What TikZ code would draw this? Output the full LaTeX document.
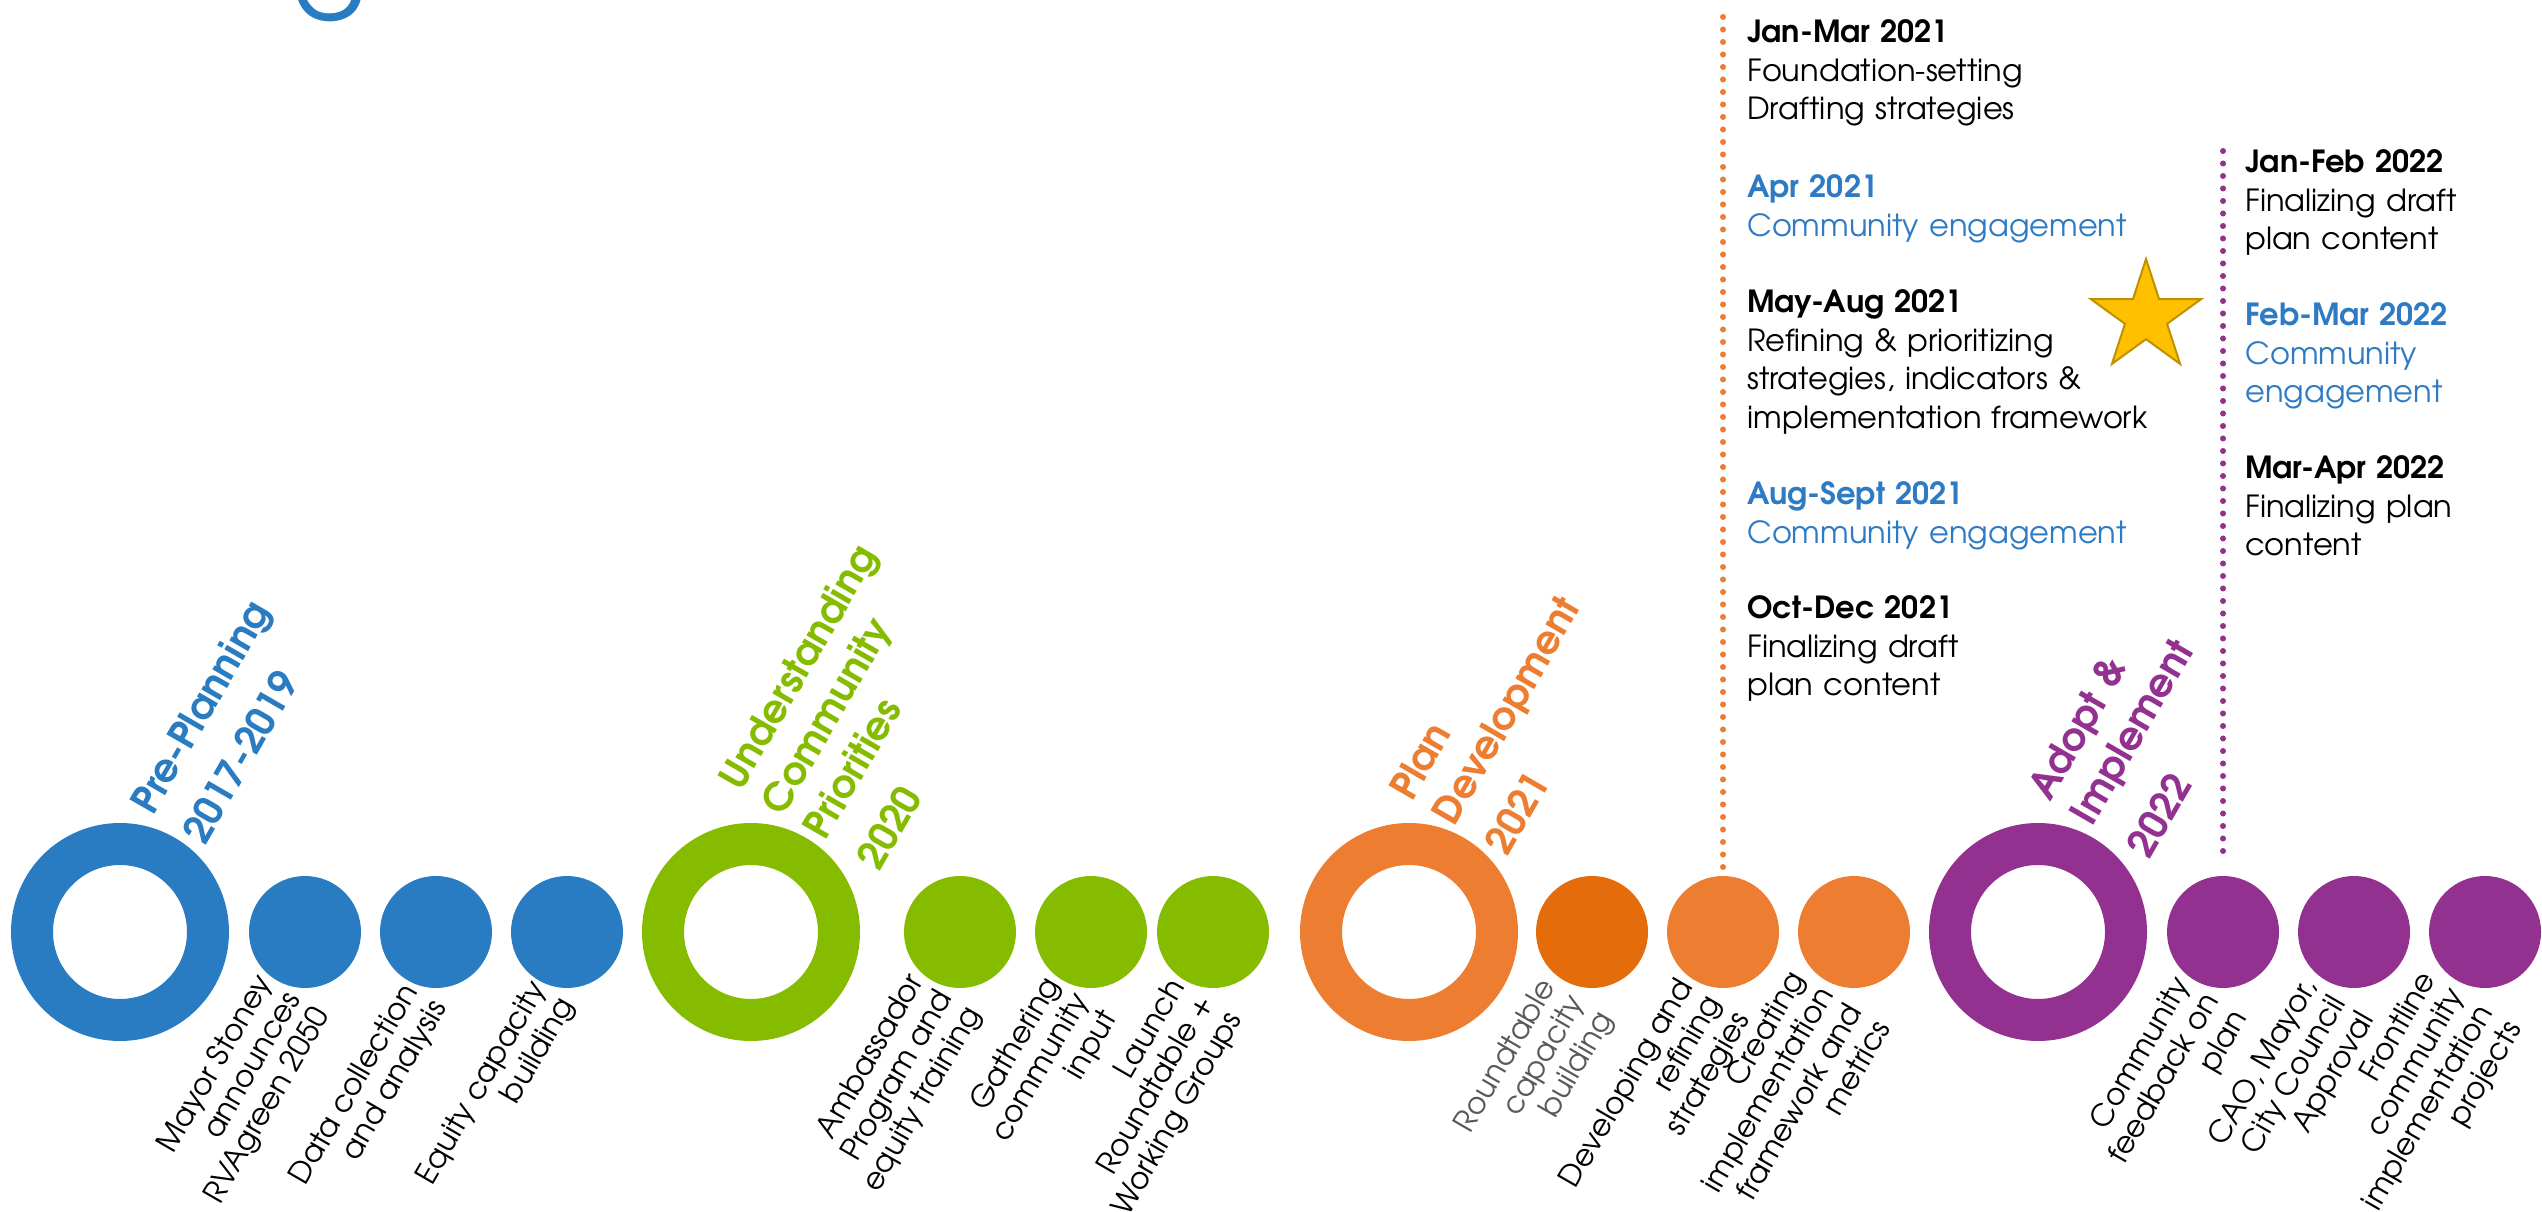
\documentclass[tikz,border=0pt]{standalone}
\usepackage{fontspec}
\setmainfont{TeX Gyre Adventor}
\usetikzlibrary{positioning,shapes.geometric}

\definecolor{preblue}{HTML}{297CC1}
\definecolor{undgreen}{HTML}{85BC00}
\definecolor{planorange}{HTML}{ED7D31}
\definecolor{darkorange}{HTML}{E46C0A}
\definecolor{adoptpurple}{HTML}{923190}
\definecolor{engblue}{HTML}{2E7BC4}
\definecolor{labelgray}{HTML}{595959}
\definecolor{stargold}{HTML}{FFC000}
\definecolor{staredge}{HTML}{BF9000}

\tikzset{
  phase/.style={circle,draw=#1,line width=42pt,outer sep=21pt,
    minimum size=176pt,inner sep=0pt},
  stepdot/.style={circle,fill=#1,minimum size=112pt,inner sep=0pt,outer sep=0pt},
  phasetitle/.style={rotate=60,anchor=base west,align=left,text width=340pt,
    inner sep=0pt,text=#1,font=\bfseries\fontsize{39}{49}\selectfont},
  steplabel/.style={rotate=60,anchor=north east,align=right,inner sep=0pt,
    font=\fontsize{30}{33}\selectfont},
  dotline/.style={draw=#1,line width=6pt,line cap=round,
    dash pattern=on 0pt off 12.5pt},
  when/.style={anchor=base west,align=left,text width=#1,inner sep=0pt,
    font=\fontsize{30.5}{38.4}\selectfont},
}

\begin{document}
\begin{tikzpicture}[x=1pt,y=1pt,node distance=19pt]
\useasboundingbox (0,0) rectangle (2542,1211);
% heading, cut off by the top edge
\node[anchor=base,inner sep=0pt,text=preblue,font=\fontsize{118}{118}\selectfont]
  (head) at (330,1214) {g};

% phases and steps
\node[phase=preblue] (pre) at (120,279) {};
\node[stepdot=preblue,right=20pt of pre] (b1) {};
\node[stepdot=preblue,right=of b1] (b2) {};
\node[stepdot=preblue,right=of b2] (b3) {};
\node[phase=undgreen,right=of b3] (und) {};
\node[stepdot=undgreen,right=44pt of und] (g1) {};
\node[stepdot=undgreen,right=of g1] (g2) {};
\node[stepdot=undgreen,right=10pt of g2] (g3) {};
\node[phase=planorange,right=31pt of g3] (plan) {};
\node[stepdot=darkorange,right=18pt of plan] (o1) {};
\node[stepdot=planorange,right=of o1] (o2) {};
\node[stepdot=planorange,right=of o2] (o3) {};
\node[phase=adoptpurple,right=of o3] (adopt) {};
\node[stepdot=adoptpurple,right=20pt of adopt] (p1) {};
\node[stepdot=adoptpurple,right=of p1] (p2) {};
\node[stepdot=adoptpurple,right=of p2] (p3) {};

% phase titles
\node[phasetitle=preblue] (pretitle) at ([shift={(33,115)}]pre.center)
  {Pre-Planning\\[11pt]2017-2019};
\node[phasetitle=undgreen] (undtitle) at ([shift={(-10,139)}]und.center)
  {Understanding\\Community\\Priorities\\[13pt]2020};
\node[phasetitle=planorange] (plantitle) at ([shift={(3,129)}]plan.center)
  {Plan\\Development\\[12pt]2021};
\node[phasetitle=adoptpurple] (adopttitle) at ([shift={(12,129)}]adopt.center)
  {Adopt \&\\Implement\\[17pt]2022};

% step labels
\node[steplabel] (b1text) at ([shift={(-52,-39)}]b1.center)
  {Mayor Stoney\\announces\\RVAgreen 2050};
\node[steplabel] (b2text) at ([shift={(-37,-48)}]b2.center)
  {Data collection\\and analysis};
\node[steplabel] (b3text) at ([shift={(-40,-45)}]b3.center)
  {Equity capacity\\building};
\node[steplabel] (g1text) at ([shift={(-55,-38)}]g1.center)
  {Ambassador\\Program and\\equity training};
\node[steplabel] (g2text) at ([shift={(-50,-41)}]g2.center)
  {Gathering\\community\\input};
\node[steplabel] (g3text) at ([shift={(-47,-43)}]g3.center)
  {Launch\\Roundtable +\\Working Groups};
\node[steplabel,text=labelgray] (o1text) at ([shift={(-55,-43)}]o1.center)
  {Roundtable\\capacity\\building};
\node[steplabel] (o2text) at ([shift={(-49,-43)}]o2.center)
  {Developing and\\refining\\strategies};
\node[steplabel] (o3text) at ([shift={(-68,-35)}]o3.center)
  {Creating\\implementation\\framework and\\metrics};
\node[steplabel] (p1text) at ([shift={(-52,-41)}]p1.center)
  {Community\\feedback on\\plan};
\node[steplabel] (p2text) at ([shift={(-56,-43)}]p2.center)
  {CAO, Mayor,\\City Council\\Approval};
\node[steplabel] (p3text) at ([shift={(-68,-36)}]p3.center)
  {Frontline\\community\\implementation\\projects};

% 2021 detail
\coordinate (otop) at ([yshift=867pt]o2.north);
\draw[dotline=planorange] ([yshift=9pt]o2.north) -- (otop);
\node[when=480pt] (jan21) at (1747,1168)
  {\textbf{Jan-Mar 2021}\\Foundation-setting\\Drafting strategies};
\node[when=480pt,text=engblue] (apr21) at ([yshift=-155pt]jan21.base west)
  {\textbf{Apr 2021}\\Community engagement};
\node[when=480pt] (may21) at ([yshift=-115pt]apr21.base west)
  {\textbf{May-Aug 2021}\\Refining \& prioritizing\\strategies, indicators \&\\implementation framework};
\node[when=480pt,text=engblue] (aug21) at ([yshift=-192pt]may21.base west)
  {\textbf{Aug-Sept 2021}\\Community engagement};
\node[when=480pt] (oct21) at ([yshift=-114pt]aug21.base west)
  {\textbf{Oct-Dec 2021}\\Finalizing draft\\plan content};
\node[star,star points=5,star point ratio=2.618,minimum size=116pt,inner sep=0pt,
  fill=stargold,draw=staredge,line width=2pt] (goldstar) at (2146,894) {};

% 2022 detail
\coordinate (ptop) at ([yshift=733pt]p1.north);
\draw[dotline=adoptpurple] ([yshift=25pt]p1.north) -- (ptop);
\node[when=290pt] (jan22) at (2245,1038)
  {\textbf{Jan-Feb 2022}\\Finalizing draft\\plan content};
\node[when=290pt,text=engblue] (feb22) at ([yshift=-153pt]jan22.base west)
  {\textbf{Feb-Mar 2022}\\Community\\engagement};
\node[when=290pt] (mar22) at ([yshift=-153pt]feb22.base west)
  {\textbf{Mar-Apr 2022}\\Finalizing plan\\content};
\end{tikzpicture}
\end{document}
